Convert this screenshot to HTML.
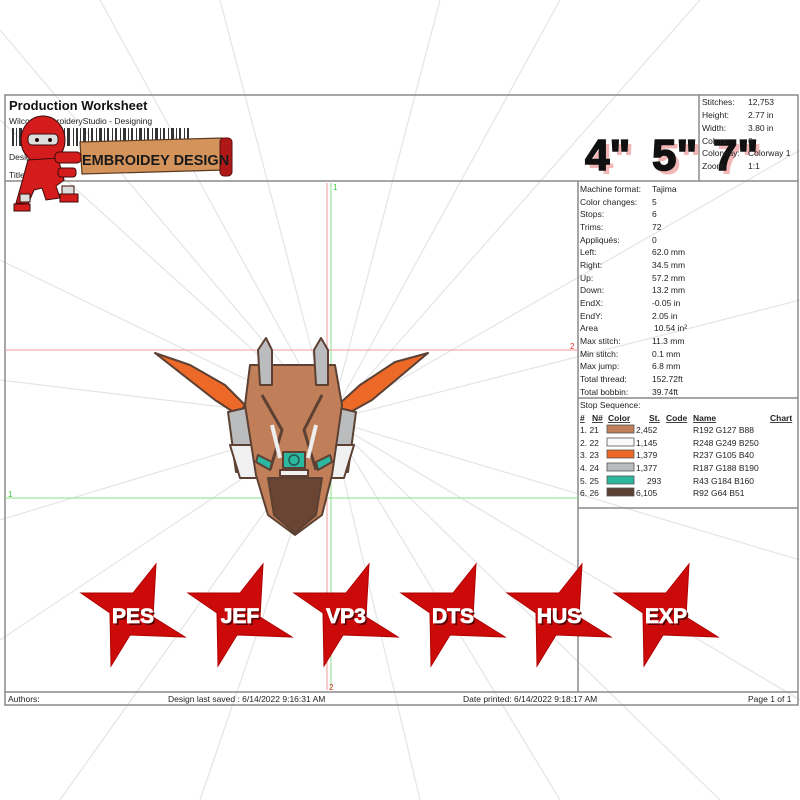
<!DOCTYPE html>
<html><head><meta charset="utf-8"><style>
html,body{margin:0;padding:0;background:#fff;}
svg{display:block;}
text{font-family:"Liberation Sans",Arial,sans-serif;}
</style></head><body>
<svg width="800" height="800" viewBox="0 0 800 800" xmlns="http://www.w3.org/2000/svg">
<rect width="800" height="800" fill="#fff"/>
<g stroke="#e4e4e4" stroke-width="1.2">
<line x1="330" y1="420" x2="0" y2="120"/><line x1="330" y1="420" x2="0" y2="260"/><line x1="330" y1="420" x2="0" y2="380"/>
<line x1="330" y1="420" x2="0" y2="520"/><line x1="330" y1="420" x2="0" y2="640"/><line x1="330" y1="420" x2="60" y2="800"/>
<line x1="330" y1="420" x2="200" y2="800"/><line x1="330" y1="420" x2="420" y2="800"/>
<line x1="330" y1="420" x2="560" y2="800"/><line x1="330" y1="420" x2="720" y2="800"/><line x1="330" y1="420" x2="800" y2="700"/>
<line x1="330" y1="420" x2="800" y2="560"/><line x1="330" y1="420" x2="800" y2="300"/>
<line x1="330" y1="420" x2="800" y2="150"/><line x1="330" y1="420" x2="700" y2="0"/><line x1="330" y1="420" x2="560" y2="0"/>
<line x1="330" y1="420" x2="440" y2="0"/><line x1="330" y1="420" x2="220" y2="0"/>
<line x1="330" y1="420" x2="100" y2="0"/><line x1="330" y1="420" x2="0" y2="30"/>
</g>
<g fill="none" stroke="#8a8a8a" stroke-width="1.5">
<rect x="5" y="95" width="793" height="610"/>
<line x1="5" y1="181" x2="798" y2="181"/>
<line x1="699" y1="95" x2="699" y2="181"/>
<line x1="578" y1="181" x2="578" y2="692"/>
<line x1="578" y1="398" x2="798" y2="398"/>
<line x1="578" y1="508" x2="798" y2="508"/>
<line x1="5" y1="692" x2="798" y2="692"/>
</g>
<line x1="327" y1="183" x2="327" y2="690" stroke="#f39a9a" stroke-width="1"/>
<line x1="331" y1="183" x2="331" y2="690" stroke="#8be08b" stroke-width="1"/>
<line x1="5" y1="350" x2="578" y2="350" stroke="#f39a9a" stroke-width="1"/>
<line x1="5" y1="498" x2="578" y2="498" stroke="#8be08b" stroke-width="1"/>
<text x="333" y="190" font-size="8" fill="#3c3">1</text>
<text x="570" y="349" font-size="8" fill="#e33">2</text>
<text x="8" y="497" font-size="8" fill="#3c3">1</text>
<text x="329" y="690" font-size="8" fill="#e33">2</text>
<text x="9" y="110" font-size="13" font-weight="bold" fill="#111">Production Worksheet</text>
<text x="9" y="124" font-size="8.5" fill="#222">Wilcom EmbroideryStudio - Designing</text>
<g fill="#333">
<rect x="12" y="128" width="2" height="18"/><rect x="16" y="128" width="1" height="18"/><rect x="19" y="128" width="3" height="18"/><rect x="24" y="128" width="1" height="18"/><rect x="27" y="128" width="2" height="18"/><rect x="31" y="128" width="1" height="18"/><rect x="34" y="128" width="3" height="18"/><rect x="39" y="128" width="1" height="18"/><rect x="42" y="128" width="2" height="18"/><rect x="46" y="128" width="1" height="18"/><rect x="60" y="128" width="2" height="18"/><rect x="64" y="128" width="1" height="18"/><rect x="67" y="128" width="3" height="18"/><rect x="73" y="128" width="1" height="18"/><rect x="76" y="128" width="2" height="18"/><rect x="80" y="128" width="1" height="18"/><rect x="83" y="128" width="3" height="18"/><rect x="88" y="128" width="1" height="18"/><rect x="91" y="128" width="2" height="18"/><rect x="96" y="128" width="1" height="18"/><rect x="99" y="128" width="3" height="18"/><rect x="104" y="128" width="1" height="18"/><rect x="107" y="128" width="2" height="18"/><rect x="112" y="128" width="1" height="18"/><rect x="115" y="128" width="2" height="18"/><rect x="120" y="128" width="1" height="18"/><rect x="123" y="128" width="3" height="18"/><rect x="128" y="128" width="1" height="18"/><rect x="131" y="128" width="2" height="18"/><rect x="136" y="128" width="1" height="18"/><rect x="139" y="128" width="3" height="18"/><rect x="144" y="128" width="1" height="18"/><rect x="147" y="128" width="2" height="18"/><rect x="152" y="128" width="1" height="18"/><rect x="155" y="128" width="3" height="18"/><rect x="160" y="128" width="1" height="18"/><rect x="163" y="128" width="2" height="18"/><rect x="168" y="128" width="1" height="18"/><rect x="171" y="128" width="3" height="18"/><rect x="176" y="128" width="1" height="18"/><rect x="179" y="128" width="2" height="18"/><rect x="184" y="128" width="1" height="18"/><rect x="187" y="128" width="2" height="18"/>
</g>
<text x="9" y="160" font-size="8.5" fill="#222">Design:</text>
<text x="9" y="178" font-size="8.5" fill="#222">Title:</text>
<path d="M80 142 L222 138 L224 170 L82 174 Z" fill="#d4935a" stroke="#5a3a20" stroke-width="1.2"/>
<rect x="220" y="138" width="12" height="38" rx="4" fill="#b01818" stroke="#5a1010"/>
<text x="82" y="165" font-size="14.5" font-weight="bold" fill="#1a1a1a">EMBROIDEY DESIGN</text>
<g stroke="#3a0a0a" stroke-width="1">
<ellipse cx="43" cy="140" rx="22" ry="24" fill="#d41c1c"/>
<rect x="28" y="134" width="30" height="11" rx="4" fill="#ddd"/>
<circle cx="37" cy="140" r="1.5" fill="#000"/><circle cx="50" cy="140" r="1.5" fill="#000"/>
<path d="M28 160 L58 158 L64 180 L56 186 L60 198 L46 200 L42 188 L34 190 L28 204 L16 203 L22 182 Z" fill="#d41c1c"/>
<rect x="55" y="152" width="26" height="11" rx="4" fill="#d41c1c"/>
<rect x="58" y="168" width="18" height="9" rx="3" fill="#d41c1c"/>
<rect x="62" y="186" width="12" height="8" fill="#ddd"/>
<rect x="20" y="194" width="10" height="8" fill="#ddd"/>
<path d="M14 204 L30 204 L30 211 L14 211Z" fill="#d41c1c"/>
<path d="M60 194 L78 194 L78 202 L60 202Z" fill="#d41c1c"/>
</g>
<g font-size="44" font-weight="900">
<text x="589" y="174" fill="#f2b6b6">4"</text><text x="656" y="174" fill="#f2b6b6">5"</text><text x="717" y="174" fill="#f2b6b6">7"</text>
<text x="585" y="170" fill="#111" stroke="#111" stroke-width="1.5">4"</text>
<text x="652" y="170" fill="#111" stroke="#111" stroke-width="1.5">5"</text>
<text x="713" y="170" fill="#111" stroke="#111" stroke-width="1.5">7"</text>
</g>
<g font-size="8.5" fill="#222">
<text x="702" y="105">Stitches:</text><text x="748" y="105">12,753</text>
<text x="702" y="118">Height:</text><text x="748" y="118">2.77 in</text>
<text x="702" y="131">Width:</text><text x="748" y="131">3.80 in</text>
<text x="702" y="144">Colors:</text><text x="748" y="144">6</text>
<text x="702" y="156">Colorway:</text><text x="748" y="156">Colorway 1</text>
<text x="702" y="169">Zoom:</text><text x="748" y="169">1:1</text>
</g>
<g font-size="8.5" fill="#222">
<text x="580" y="192">Machine format:</text><text x="652" y="192">Tajima</text>
<text x="580" y="205">Color changes:</text><text x="652" y="205">5</text>
<text x="580" y="217">Stops:</text><text x="652" y="217">6</text>
<text x="580" y="230">Trims:</text><text x="652" y="230">72</text>
<text x="580" y="243">Appliqués:</text><text x="652" y="243">0</text>
<text x="580" y="255">Left:</text><text x="652" y="255">62.0 mm</text>
<text x="580" y="268">Right:</text><text x="652" y="268">34.5 mm</text>
<text x="580" y="281">Up:</text><text x="652" y="281">57.2 mm</text>
<text x="580" y="293">Down:</text><text x="652" y="293">13.2 mm</text>
<text x="580" y="306">EndX:</text><text x="652" y="306">-0.05 in</text>
<text x="580" y="319">EndY:</text><text x="652" y="319">2.05 in</text>
<text x="580" y="331">Area</text><text x="654" y="331">10.54 in²</text>
<text x="580" y="344">Max stitch:</text><text x="652" y="344">11.3 mm</text>
<text x="580" y="357">Min stitch:</text><text x="652" y="357">0.1 mm</text>
<text x="580" y="369">Max jump:</text><text x="652" y="369">6.8 mm</text>
<text x="580" y="382">Total thread:</text><text x="652" y="382">152.72ft</text>
<text x="580" y="395">Total bobbin:</text><text x="652" y="395">39.74ft</text>
<text x="580" y="408">Stop Sequence:</text>
</g>
<g font-size="8.5" fill="#222" font-weight="bold" text-decoration="underline">
<text x="580" y="421">#</text><text x="592" y="421">N#</text><text x="608" y="421">Color</text>
<text x="649" y="421">St.</text><text x="666" y="421">Code</text><text x="693" y="421">Name</text><text x="770" y="421">Chart</text>
</g>
<g font-size="8.5" fill="#222">
<text x="580" y="433">1.  21</text><text x="636" y="433">2,452</text><text x="693" y="433">R192 G127 B88</text>
<text x="580" y="446">2.  22</text><text x="636" y="446">1,145</text><text x="693" y="446">R248 G249 B250</text>
<text x="580" y="458">3.  23</text><text x="636" y="458">1,379</text><text x="693" y="458">R237 G105 B40</text>
<text x="580" y="471">4.  24</text><text x="636" y="471">1,377</text><text x="693" y="471">R187 G188 B190</text>
<text x="580" y="484">5.  25</text><text x="647" y="484">293</text><text x="693" y="484">R43 G184 B160</text>
<text x="580" y="496">6.  26</text><text x="636" y="496">6,105</text><text x="693" y="496">R92 G64 B51</text>
</g>
<g stroke="#555" stroke-width="0.8">
<rect x="607" y="425" width="27" height="8" fill="#c07f58"/>
<rect x="607" y="438" width="27" height="8" fill="#f8f9fa"/>
<rect x="607" y="450" width="27" height="8" fill="#ed6928"/>
<rect x="607" y="463" width="27" height="8" fill="#bbbcbe"/>
<rect x="607" y="476" width="27" height="8" fill="#2bb8a0"/>
<rect x="607" y="488" width="27" height="8" fill="#5c4033"/>
</g>
<g stroke="#5c4033" stroke-width="2" stroke-linejoin="round">
<path d="M155 353 L190 365 L225 385 L245 405 L238 415 L215 400 Z" fill="#ed6928"/>
<path d="M428 353 L395 362 L360 385 L338 405 L345 415 L372 400 Z" fill="#ed6928"/>
<path d="M228 412 L258 405 L258 470 L236 472 Z" fill="#bbbcbe"/>
<path d="M356 412 L326 405 L326 470 L348 472 Z" fill="#bbbcbe"/>
<path d="M230 445 L258 445 L258 478 L240 478 Z" fill="#f0f0f0"/>
<path d="M354 445 L326 445 L326 478 L344 478 Z" fill="#f0f0f0"/>
<path d="M250 365 L335 365 L342 405 L332 475 L322 515 L295 535 L268 515 L256 475 L245 405 Z" fill="#c07f58"/>
<path d="M266 338 L272 350 L272 385 L260 385 L258 350 Z" fill="#bbbcbe"/>
<path d="M321 338 L328 350 L328 385 L316 385 L314 350 Z" fill="#bbbcbe"/>
<path d="M268 478 L322 478 L316 515 L295 533 L274 515 Z" fill="#6a4534"/>
<path d="M262 395 L282 430 L270 470 M322 395 L304 430 L316 470" fill="none" stroke="#5c4033" stroke-width="3"/>
<rect x="283" y="452" width="22" height="16" fill="#2bb8a0"/>
<circle cx="294" cy="460" r="5" fill="none" stroke="#24594d" stroke-width="1.5"/>
<path d="M258 455 L272 462 L270 470 L256 462Z" fill="#2bb8a0"/>
<path d="M330 455 L316 462 L318 470 L332 462Z" fill="#2bb8a0"/>
<path d="M272 425 L280 458 M316 425 L308 458" fill="none" stroke="#eee" stroke-width="4"/>
<rect x="280" y="470" width="28" height="6" fill="#f0f0f0"/>
</g>
<defs>
<polygon id="st" points="23,-51 20,2 52,22 -3,20 -22,51 -23,-2 -52,-22 0,-22"/>
</defs>
<g fill="#cc0a0a" stroke="#b00000" stroke-width="1">
<use href="#st" x="133" y="615"/><use href="#st" x="240" y="615"/><use href="#st" x="346" y="615"/>
<use href="#st" x="453" y="615"/><use href="#st" x="559" y="615"/><use href="#st" x="666" y="615"/>
</g>
<g font-size="21" font-weight="bold" text-anchor="middle">
<g fill="#5a0000">
<text x="135" y="625">PES</text><text x="242" y="625">JEF</text><text x="348" y="625">VP3</text>
<text x="455" y="625">DTS</text><text x="561" y="625">HUS</text><text x="668" y="625">EXP</text>
</g>
<g fill="#fff" stroke="#fff" stroke-width="0.8">
<text x="133" y="623">PES</text><text x="240" y="623">JEF</text><text x="346" y="623">VP3</text>
<text x="453" y="623">DTS</text><text x="559" y="623">HUS</text><text x="666" y="623">EXP</text>
</g>
</g>
<g font-size="8.5" fill="#222">
<text x="8" y="702">Authors:</text>
<text x="168" y="702">Design last saved : 6/14/2022 9:16:31 AM</text>
<text x="463" y="702">Date printed: 6/14/2022 9:18:17 AM</text>
<text x="748" y="702">Page 1 of 1</text>
</g>
</svg>
</body></html>
